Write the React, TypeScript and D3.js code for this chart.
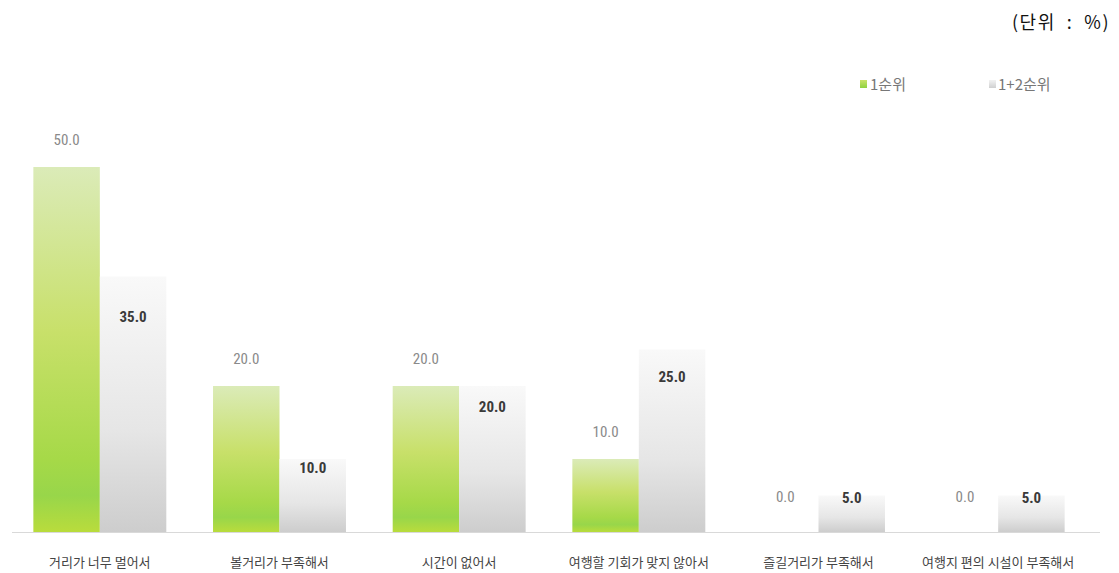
import React from "react";
import * as d3 from "d3";

const categories = [
  "거리가 너무 멀어서",
  "볼거리가 부족해서",
  "시간이 없어서",
  "여행할 기회가 맞지 않아서",
  "즐길거리가 부족해서",
  "여행지 편의 시설이 부족해서",
];
const seriesNames = ["1순위", "1+2순위"];
const rank1 = [50.0, 20.0, 20.0, 10.0, 0.0, 0.0];
const rank12 = [35.0, 10.0, 20.0, 25.0, 5.0, 5.0];
const unitLabel = "(단위 : %)";

const W = 1119;
const H = 573;
const baseline = 532;
const numFont = "'Liberation Sans Narrow', 'Roboto Condensed', 'Noto Sans CJK KR', sans-serif";
const krFont = "'Noto Sans CJK KR', sans-serif";

export default function App() {
  const x0 = d3.scaleBand<string>().domain(categories).range([10, 1088]).paddingInner(0.26).paddingOuter(0.13);
  const x1 = d3.scaleBand<string>().domain(seriesNames).range([0, x0.bandwidth()]).padding(0);
  const y = d3.scaleLinear().domain([0, 50]).range([baseline, 167]);

  const labelY2 = (v: number) => baseline - 0.826 * (baseline - y(v)) - 4;
  const labelY1 = (v: number) => Math.min(y(v) - 27, baseline - 35);

  return (
    <svg width={W} height={H} style={{ position: "absolute", left: 0, top: 0, background: "#fff" }}>
      <defs>
        <linearGradient id="gGreen" x1="0" y1="0" x2="0" y2="1">
          <stop offset="0%" stopColor="#dbebb8" />
          <stop offset="45%" stopColor="#c8e06a" />
          <stop offset="80%" stopColor="#a6d948" />
          <stop offset="90%" stopColor="#98d64a" />
          <stop offset="100%" stopColor="#b9dc3c" />
        </linearGradient>
        <linearGradient id="gGray" x1="0" y1="0" x2="0" y2="1">
          <stop offset="0%" stopColor="#f9f9f9" />
          <stop offset="60%" stopColor="#e6e6e6" />
          <stop offset="100%" stopColor="#cdcdcd" />
        </linearGradient>
        <linearGradient id="gGreenLeg" x1="0" y1="0" x2="0" y2="1">
          <stop offset="0%" stopColor="#c9e26a" />
          <stop offset="100%" stopColor="#8fd23f" />
        </linearGradient>
        <linearGradient id="gGrayLeg" x1="0" y1="0" x2="0" y2="1">
          <stop offset="0%" stopColor="#f2f2f2" />
          <stop offset="100%" stopColor="#d0d0d0" />
        </linearGradient>
      </defs>

      <text x={1110} y={29} textAnchor="end" fontFamily={krFont} fontSize={18} fill="#111"
        letterSpacing={1.5} style={{ whiteSpace: "pre" }}>
        {unitLabel.replace(/ /g, "  ")}
      </text>

      {/* legend */}
      <rect x={860} y={80} width={7} height={8} fill="url(#gGreenLeg)" />
      <text x={870} y={90} fontFamily={krFont} fontSize={15} fill="#777">{seriesNames[0]}</text>
      <rect x={989} y={80} width={7} height={8} fill="url(#gGrayLeg)" />
      <text x={998} y={90} fontFamily={krFont} fontSize={15} fill="#777">{seriesNames[1]}</text>

      {/* axis line */}
      <line x1={12} x2={1100} y1={baseline + 0.5} y2={baseline + 0.5} stroke="#d9d9d9" strokeWidth={1} />

      {categories.map((c, i) => {
        const gx = x0(c)!;
        const bw = x1.bandwidth();
        const xa = gx + x1(seriesNames[0])!;
        const xb = gx + x1(seriesNames[1])!;
        const v1 = rank1[i];
        const v2 = rank12[i];
        return (
          <g key={c}>
            {v1 > 0 && (
              <rect x={xa} y={y(v1)} width={bw} height={baseline - y(v1)} fill="url(#gGreen)" />
            )}
            {v2 > 0 && (
              <rect x={xb} y={y(v2)} width={bw} height={baseline - y(v2)} fill="url(#gGray)" />
            )}
            <text x={xa + bw / 2} y={labelY1(v1)} textAnchor="middle" dominantBaseline="central"
              fontFamily={numFont} fontSize={15} fill="#8a8a8a">
              {v1.toFixed(1)}
            </text>
            <text x={xb + bw / 2} y={labelY2(v2)} textAnchor="middle" dominantBaseline="central"
              fontFamily={numFont} fontSize={15} fontWeight="bold" fill="#3a3a3a">
              {v2.toFixed(1)}
            </text>
            <text x={gx + x0.bandwidth() / 2} y={567} textAnchor="middle"
              fontFamily={krFont} fontSize={13} fill="#444">
              {c}
            </text>
          </g>
        );
      })}
    </svg>
  );
}
